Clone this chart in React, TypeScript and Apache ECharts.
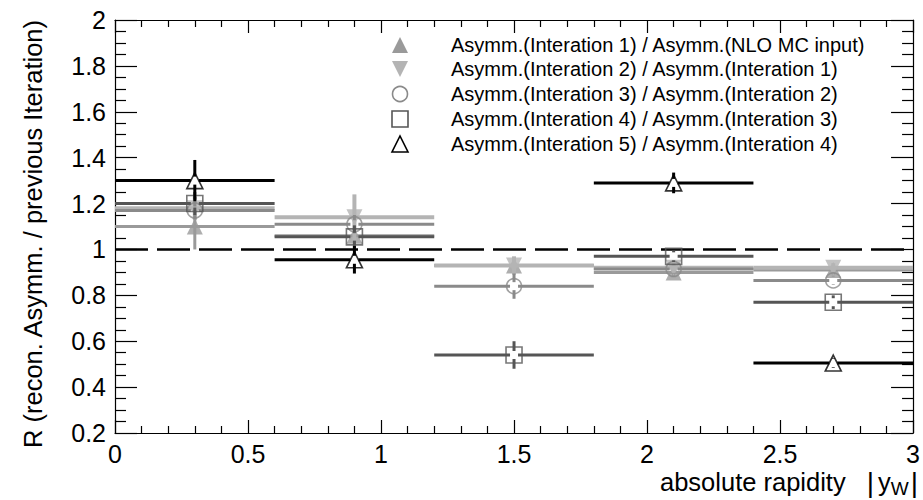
import { useEffect, useRef } from "react";
import * as echarts from "echarts";

// Rapidity bins and their centres
const binEdges = [0, 0.6, 1.2, 1.8, 2.4, 3.0];
const binCenters = [0.3, 0.9, 1.5, 2.1, 2.7];

// Ratio of reconstructed asymmetry to the previous iteration, per bin
const iter1 = [1.10, 1.06, 0.93, 0.90, 0.91];
const iter1Err = [0.10, 0.04, 0.03, 0.02, 0.02];
const iter2 = [1.18, 1.14, 0.93, 0.92, 0.92];
const iter2Err = [0.05, 0.10, 0.04, 0.02, 0.02];
const iter3 = [1.17, 1.11, 0.84, 0.915, 0.865];
const iter3Err = [0.04, 0.04, 0.055, 0.02, 0.02];
const iter4 = [1.2, 1.055, 0.54, 0.97, 0.77];
const iter4Err = [0.05, 0.05, 0.06, 0.025, 0.03];
const iter5: (number | null)[] = [1.30, 0.955, null, 1.29, 0.505];
const iter5Err: (number | null)[] = [0.09, 0.06, null, 0.045, 0.02];

const legendLabels = [
  "Asymm.(Interation 1) / Asymm.(NLO MC input)",
  "Asymm.(Interation 2) / Asymm.(Interation 1)",
  "Asymm.(Interation 3) / Asymm.(Interation 2)",
  "Asymm.(Interation 4) / Asymm.(Interation 3)",
  "Asymm.(Interation 5) / Asymm.(Interation 4)",
];

const FONT = "'Liberation Sans', Arial, Helvetica, sans-serif";

type Style = {
  color: string;
  lineWidth: number;
  symbol: string;
  rotate: number;
  filled: boolean;
  gap: number;
};

const styles: Style[] = [
  { color: "#9a9a9a", lineWidth: 3, symbol: "triangle", rotate: 0, filled: true, gap: 0 },
  { color: "#b4b4b4", lineWidth: 4, symbol: "triangle", rotate: 180, filled: true, gap: 0 },
  { color: "#8a8a8a", lineWidth: 3, symbol: "circle", rotate: 0, filled: false, gap: 4 },
  { color: "#555555", lineWidth: 3, symbol: "rect", rotate: 0, filled: false, gap: 4 },
  { color: "#000000", lineWidth: 3, symbol: "triangle", rotate: 0, filled: false, gap: 4 },
];

const allValues = [iter1, iter2, iter3, iter4, iter5];
const allErrors = [iter1Err, iter2Err, iter3Err, iter4Err, iter5Err];

function errorSeries(values: (number | null)[], errs: (number | null)[], st: Style, z: number) {
  const data: number[][] = [];
  values.forEach((v, i) => {
    if (v == null) return;
    data.push([binEdges[i], binEdges[i + 1], binCenters[i], v, errs[i] ?? 0]);
  });
  return {
    type: "custom",
    z,
    xAxisIndex: 0,
    yAxisIndex: 0,
    encode: { x: [0, 1, 2], y: 3 },
    data,
    renderItem: (_params: any, api: any) => {
      const y = api.value(3);
      const e = api.value(4);
      const l = api.coord([api.value(0), y]);
      const r = api.coord([api.value(1), y]);
      const c = api.coord([api.value(2), y]);
      const t = api.coord([api.value(2), y + e]);
      const b = api.coord([api.value(2), y - e]);
      const style = { stroke: st.color, lineWidth: st.lineWidth };
      const g = st.gap;
      const children: any[] = [
        { type: "line", shape: { x1: l[0], y1: c[1], x2: c[0] - g, y2: c[1] }, style },
        { type: "line", shape: { x1: c[0] + g, y1: c[1], x2: r[0], y2: c[1] }, style },
      ];
      if (t[1] < c[1] - g) children.push({ type: "line", shape: { x1: c[0], y1: t[1], x2: c[0], y2: c[1] - g }, style });
      if (b[1] > c[1] + g) children.push({ type: "line", shape: { x1: c[0], y1: c[1] + g, x2: c[0], y2: b[1] }, style });
      return { type: "group", children };
    },
  };
}

function markerSeries(values: (number | null)[], st: Style, z: number) {
  const data: number[][] = [];
  values.forEach((v, i) => {
    if (v == null) return;
    data.push([binCenters[i], v]);
  });
  return {
    type: "scatter",
    z,
    xAxisIndex: 0,
    yAxisIndex: 0,
    data,
    symbol: st.symbol,
    symbolRotate: st.rotate,
    symbolSize: st.symbol === "circle" ? 15 : 16,
    itemStyle: st.filled
      ? { color: st.color }
      : { color: "rgba(255,255,255,0)", borderColor: st.color, borderWidth: 1.6 },
  };
}

function legendMarker(st: Style, cx: number, cy: number) {
  const s = 8;
  if (st.symbol === "circle") {
    return { type: "circle", shape: { cx, cy, r: 7.5 }, style: { fill: "none", stroke: st.color, lineWidth: 1.6 } };
  }
  if (st.symbol === "rect") {
    return { type: "rect", shape: { x: cx - 8, y: cy - 8, width: 16, height: 16 }, style: { fill: "none", stroke: st.color, lineWidth: 1.6 } };
  }
  const pts = st.rotate === 180
    ? [[cx - s, cy - s], [cx + s, cy - s], [cx, cy + s]]
    : [[cx - s, cy + s], [cx + s, cy + s], [cx, cy - s]];
  return {
    type: "polygon",
    shape: { points: pts },
    style: st.filled ? { fill: st.color } : { fill: "none", stroke: st.color, lineWidth: 1.6 },
  };
}

export default function App() {
  const ref = useRef<HTMLDivElement>(null);

  useEffect(() => {
    if (!ref.current) return;
    const chart = echarts.init(ref.current, null, { renderer: "svg" });

    const axisCommon = {
      type: "value",
      axisLine: { show: true, onZero: false, lineStyle: { color: "#000", width: 1.2 } },
      splitLine: { show: false },
    };

    const legendRows = [45, 69, 94, 119, 144];
    const graphic: any[] = [];
    styles.forEach((st, i) => {
      graphic.push(legendMarker(st, 400, legendRows[i]));
      graphic.push({
        type: "text",
        x: 451,
        y: legendRows[i],
        style: { text: legendLabels[i], fill: "#000", font: `20px ${FONT}`, verticalAlign: "middle", align: "left" },
      });
    });
    graphic.push({
      type: "text",
      x: 33,
      y: 20,
      rotation: Math.PI / 2,
      style: {
        text: "R (recon. Asymm. / previous Iteration)",
        fill: "#000",
        font: `25.5px ${FONT}`,
        align: "right",
        verticalAlign: "middle",
      },
    });
    graphic.push({
      type: "text",
      x: 918,
      y: 482,
      style: {
        text: "absolute rapidity {barL||}{y|y}{sub|W}{barR||}",
        fill: "#000",
        font: `25.5px ${FONT}`,
        align: "right",
        verticalAlign: "middle",
        rich: {
          barL: { fontSize: 28, fontFamily: FONT, fill: "#000", padding: [0, 4, 0, 14] },
          y: { fontSize: 25.5, fontFamily: FONT, fill: "#000" },
          sub: { fontSize: 19, fontFamily: FONT, fill: "#000", padding: [12, 0, 0, 0] },
          barR: { fontSize: 28, fontFamily: FONT, fill: "#000", padding: [0, 0, 0, 2] },
        },
      },
    });

    const series: any[] = [];
    styles.forEach((st, i) => {
      series.push(errorSeries(allValues[i], allErrors[i], st, 3 + i * 2));
    });
    styles.forEach((st, i) => {
      series.push(markerSeries(allValues[i], st, 4 + i * 2));
    });
    // reference line at unity
    series.push({
      type: "line",
      data: [],
      z: 2,
      markLine: {
        silent: true,
        symbol: "none",
        label: { show: false },
        lineStyle: { color: "#000", width: 2.6, type: [33, 9] },
        data: [{ yAxis: 1 }],
      },
    });

    const tickStyle = { color: "#000", width: 1.2 };

    chart.setOption({
      animation: false,
      grid: { left: 115, right: 6, top: 20, bottom: 67, containLabel: false },
      xAxis: [
        {
          ...axisCommon,
          position: "bottom",
          min: 0,
          max: 3,
          interval: 0.5,
          axisTick: { show: true, inside: true, length: 13, lineStyle: tickStyle },
          minorTick: { show: true, splitNumber: 5, length: 7, lineStyle: tickStyle },
          axisLabel: {
            show: true,
            color: "#000",
            fontSize: 25,
            fontFamily: FONT,
            margin: 8,
            alignMinLabel: "center",
            alignMaxLabel: "center",
            hideOverlap: false,
          },
        },
        {
          ...axisCommon,
          position: "top",
          min: 0,
          max: 3,
          interval: 0.5,
          axisTick: { show: true, inside: true, length: 13, lineStyle: tickStyle },
          minorTick: { show: true, splitNumber: 5, length: 7, lineStyle: tickStyle },
          axisLabel: { show: false },
        },
      ],
      yAxis: [
        {
          ...axisCommon,
          position: "left",
          min: 0.2,
          max: 2,
          interval: 0.2,
          axisTick: { show: true, inside: true, length: 22, lineStyle: tickStyle },
          minorTick: { show: true, splitNumber: 4, length: 11, lineStyle: tickStyle },
          axisLabel: {
            show: true,
            color: "#000",
            fontSize: 25,
            fontFamily: FONT,
            margin: 9,
            verticalAlignMinLabel: "middle",
            verticalAlignMaxLabel: "middle",
          },
        },
        {
          ...axisCommon,
          position: "right",
          min: 0.2,
          max: 2,
          interval: 0.2,
          axisTick: { show: true, inside: true, length: 22, lineStyle: tickStyle },
          minorTick: { show: true, splitNumber: 4, length: 11, lineStyle: tickStyle },
          axisLabel: { show: false },
        },
      ],
      graphic,
      series,
    });

    return () => chart.dispose();
  }, []);

  return (
    <div
      ref={ref}
      style={{ position: "fixed", left: 0, top: 0, width: 923, height: 500, background: "#fff" }}
    />
  );
}
